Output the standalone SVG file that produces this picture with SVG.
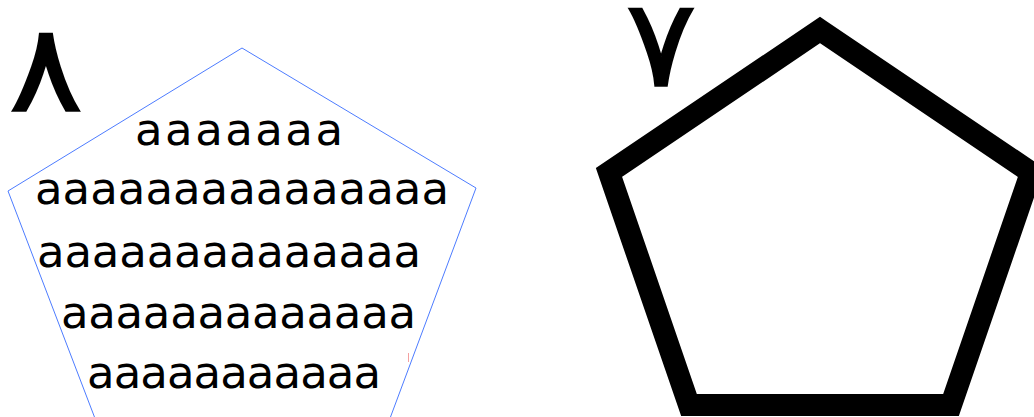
<svg xmlns="http://www.w3.org/2000/svg" width="1034" height="417" viewBox="0 0 1034 417">
<style>
.a{font-family:"DejaVu Sans",sans-serif;font-size:45px;fill:#000}
.d{font-family:"DejaVu Sans","Noto Sans",sans-serif;font-size:122px;fill:#000;stroke:#000;stroke-width:1.5}
</style>
<rect width="1034" height="417" fill="#fff"/>
<g id="left">
<polygon points="242,48 476,188 389,421 96,421 8,191" fill="none" stroke="#4d7cff" stroke-width="1"/>
<text class="d" transform="translate(46,111) scale(1.15,1)" text-anchor="middle">٨</text>
<text class="a" x="135" y="145" textLength="208" lengthAdjust="spacing">aaaaaaa</text>
<text class="a" x="35" y="204" textLength="414" lengthAdjust="spacing">aaaaaaaaaaaaaaa</text>
<text class="a" x="37" y="267" textLength="384" lengthAdjust="spacing">aaaaaaaaaaaaaa</text>
<text class="a" x="61" y="328" textLength="355" lengthAdjust="spacing">aaaaaaaaaaaaa</text>
<text class="a" x="87" y="388" textLength="294" lengthAdjust="spacing">aaaaaaaaaaa</text>
<line x1="408.5" y1="353" x2="408.5" y2="362" stroke="#f4a0a0" stroke-width="1"/>
</g>
<g id="right">
<polygon points="820,30 1031,172.5 951,405 689,405 609,172.5" fill="none" stroke="#000" stroke-width="22" stroke-linejoin="miter"/>
<text class="d" transform="translate(661,86) scale(1.1,1)" text-anchor="middle">٧</text>
</g>
</svg>
